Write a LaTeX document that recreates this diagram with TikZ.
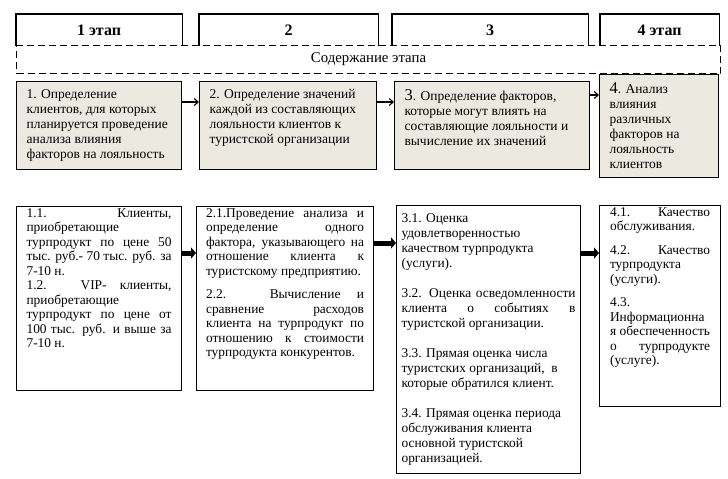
\documentclass[tikz,border=0pt]{standalone}
\usepackage{fontspec}
\setmainfont{Liberation Serif}
\usetikzlibrary{arrows.meta}
\definecolor{stepfill}{RGB}{236,234,224}
\hyphenpenalty=10000
\exhyphenpenalty=10000
\newcommand{\boxtext}[3]{\parbox[t][#1][t]{#2}{#3}}

\begin{document}
\begin{tikzpicture}[x=1pt,y=-1pt,line width=1.1pt,
    stage/.style={anchor=north west, minimum height=31pt, inner sep=0pt,
        font=\fontsize{16}{18}\selectfont\bfseries},
    content/.style={draw, dash pattern=on 7pt off 4pt, fill=white,
        anchor=north west, minimum width=704pt, minimum height=28pt,
        inner sep=0pt, font=\fontsize{14.8}{16}\selectfont},
    task/.style={draw, fill=stepfill, anchor=north west, inner xsep=10pt,
        inner ysep=8pt, font=\fontsize{13.5}{15}\selectfont},
    detail/.style={draw, anchor=north west, inner xsep=10pt, inner ysep=2pt,
        font=\fontsize{13.4}{14.5}\selectfont},
    link/.style={-{Straight Barb[length=4pt,width=7pt]}},
    fat/.style={-{Triangle[length=5pt,width=11pt]}, line width=5pt}]
    \useasboundingbox (0,0) rectangle (728,479);
    % stages
    \node[stage, minimum width=165pt] (s1) at (16,14) {1 этап};
    \node[stage, minimum width=178pt] (s2) at (199,14) {2};
    \node[stage, minimum width=195pt] (s3) at (392,14) {3};
    \node[stage, minimum width=118pt] (s4) at (600,14) {4 этап};
    \foreach \s in {s1,s2,s3,s4}
        \draw (\s.south west) |- (\s.north east) -- (\s.south east);
    \node[content] (c) at (16,45) {Содержание этапа};
    % tasks
    \node[task] (g1) at (16,81) {\boxtext{72pt}{145pt}{\raggedright
        1. Определение\\клиентов, для которых\\планируется проведение\\
        анализа влияния\\факторов на лояльность}};
    \node[task] (g2) at (199,81) {\boxtext{72pt}{157pt}{\raggedright
        2. Определение значений\\каждой из составляющих\\
        лояльности клиентов к\\туристской организации}};
    \node[task] (g3) at (394,81) {\boxtext{72pt}{175pt}{\raggedright
        {\fontsize{16.5}{15}\selectfont 3}. Определение факторов,\\
        которые могут влиять на\\составляющие лояльности и\\
        вычисление их значений}};
    \node[task] (g4) at (599,74) {\boxtext{87pt}{99pt}{\raggedright
        {\fontsize{16.5}{15}\selectfont 4}. Анализ\\влияния\\различных\\
        факторов на\\лояльность\\клиентов}};
    \draw[link] ([yshift=-21pt]g1.north east) -- ([yshift=-21pt]g2.north west);
    \draw[link] ([yshift=-21pt]g2.north east) -- ([yshift=-21pt]g3.north west);
    \draw[link] ([yshift=-14pt]g3.north east) -- ([yshift=-21pt]g4.north west);
    % details
    \node[detail] (b1) at (16,206) {\boxtext{180pt}{145pt}{
        1.1. Клиенты,\linebreak приобретающие\linebreak
        турпродукт по цене 50\linebreak тыс. руб.- 70 тыс. руб. за\linebreak
        7-10 н.\par
        1.2. VIP- клиенты,\linebreak приобретающие\linebreak
        турпродукт по цене от\linebreak 100 тыс. руб. и выше за\linebreak
        7-10 н.}};
    \node[detail, inner xsep=9.5pt] (b2) at (196,206) {\boxtext{180pt}{158pt}{
        2.1.Проведение анализа и\linebreak определение одного\linebreak
        фактора, указывающего на\linebreak отношение клиента к\linebreak
        туристскому предприятию.\par\vspace{9pt}
        2.2. Вычисление и\linebreak сравнение расходов\linebreak
        клиента на турпродукт по\linebreak отношению к стоимости\linebreak
        турпродукта конкурентов.}};
    \node[detail, inner xsep=5pt, font=\fontsize{13.4}{15}\selectfont] (b3)
        at (396,205) {\boxtext{264pt}{174pt}{\vspace*{6pt}
        3.1. Оценка\\ удовлетворенностью\\ качеством турпродукта\\
        (услуги).\par\vspace{15pt}
        3.2. Оценка осведомленности\linebreak клиента о событиях в\linebreak
        туристской организации.\par\vspace{15pt}
        3.3. Прямая оценка числа\\ туристских организаций,~ в\\
        которые обратился клиент.\par\vspace{15pt}
        3.4. Прямая оценка периода\\ обслуживания клиента\\
        основной туристской\\ организацией.}};
    \node[detail, inner xsep=10.5pt] (b4) at (599,205) {\boxtext{197pt}{100pt}{
        4.1. Качество\linebreak обслуживания.\par\vspace{9pt}
        4.2. Качество\linebreak турпродукта\\ (услуги).\par\vspace{9pt}
        4.3.\\ Информационна\\ я обеспеченность\linebreak
        о турпродукте\linebreak (услуге).}};
    \draw[fat] ([yshift=-47pt]b1.north east) -- ([yshift=-47pt]b2.north west);
    \draw[fat] ([yshift=-37pt]b2.north east) -- ([yshift=-38pt]b3.north west);
    \draw[fat] ([yshift=-48pt]b3.north east) -- ([yshift=-48pt]b4.north west);
\end{tikzpicture}
\end{document}
